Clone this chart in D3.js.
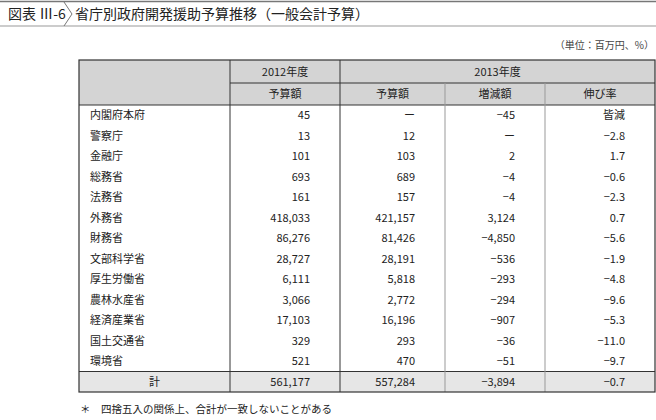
<!DOCTYPE html><html><head><meta charset="utf-8"><script src="https://cdn.jsdelivr.net/npm/d3@7"></script>
<style>body{margin:0;background:#fff}text{font-family:"Noto Sans CJK JP",sans-serif}</style></head><body><svg id="c" width="656" height="420"></svg><script>
const ministries=["内閣府本府","警察庁","金融庁","総務省","法務省","外務省","財務省","文部科学省","厚生労働省","農林水産省","経済産業省","国土交通省","環境省"];
const budget2012=["45","13","101","693","161","418,033","86,276","28,727","6,111","3,066","17,103","329","521"];
const budget2013=["ー","12","103","689","157","421,157","81,426","28,191","5,818","2,772","16,196","293","470"];
const change=["−45","ー","2","−4","−4","3,124","−4,850","−536","−293","−294","−907","−36","−51"];
const growth=["皆減","−2.8","1.7","−0.6","−2.3","0.7","−5.6","−1.9","−4.8","−9.6","−5.3","−11.0","−9.7"];
const total=["計","561,177","557,284","−3,894","−0.7"];
const svg=d3.select("#c");
svg.append("line").attr("x1",0).attr("x2",656).attr("y1",1.5).attr("y2",1.5).attr("stroke","#777").attr("stroke-width",1.5);
svg.append("line").attr("x1",0).attr("x2",656).attr("y1",26).attr("y2",26).attr("stroke","#999");
svg.append("path").attr("d","M64,2 L72,14 L64,26").attr("fill","none").attr("stroke","#777");
svg.append("text").attr("x",8).attr("y",19).attr("font-size",14).attr("fill","#222").text("図表 Ⅲ-6");
svg.append("text").attr("x",75).attr("y",19).attr("font-size",14).attr("fill","#222").text("省庁別政府開発援助予算推移（一般会計予算）");
svg.append("text").attr("x",654).attr("y",49).attr("text-anchor","end").attr("font-size",10).attr("fill","#444").text("（単位：百万円、%）");
const cols=[79,230,340,445,545,655];
const rowH=20.5;
const y=d3.scaleBand().domain(d3.range(ministries.length+1)).range([105,105+rowH*(ministries.length+1)]);
const bottom=y.range()[1];
svg.append("rect").attr("x",cols[0]).attr("y",60).attr("width",cols[5]-cols[0]).attr("height",45).attr("fill","#d4d4d4");
svg.append("rect").attr("x",cols[0]).attr("y",y(ministries.length)).attr("width",cols[5]-cols[0]).attr("height",y.bandwidth()).attr("fill","#e6e6e6");
const ln=(x1,y1,x2,y2,c,w)=>svg.append("line").attr("x1",x1).attr("y1",y1).attr("x2",x2).attr("y2",y2).attr("stroke",c).attr("stroke-width",w);
ln(cols[1],83,cols[5],83,"#333",1);
ln(cols[0],105,cols[5],105,"#333",1);
ln(cols[0],y(ministries.length),cols[5],y(ministries.length),"#333",1);
ln(cols[1],60,cols[1],bottom,"#333",1);ln(cols[2],60,cols[2],bottom,"#333",1);
ln(cols[3],83,cols[3],bottom,"#999",1);ln(cols[4],83,cols[4],bottom,"#999",1);
svg.append("rect").attr("x",cols[0]).attr("y",60).attr("width",cols[5]-cols[0]).attr("height",bottom-60).attr("fill","none").attr("stroke","#333").attr("stroke-width",1.2);
const t=(x,yy,s,a)=>svg.append("text").attr("x",x).attr("y",yy).attr("text-anchor",a).attr("font-size",11).attr("fill","#222").text(s);
t((cols[1]+cols[2])/2,76,"2012年度","middle");t((cols[2]+cols[5])/2,76,"2013年度","middle");
["予算額","予算額","増減額","伸び率"].forEach((s,i)=>t((cols[i+1]+cols[i+2])/2,98,s,"middle"));
ministries.forEach((m,i)=>{const yy=y(i)+y.bandwidth()/2+4;
 t(90,yy,m,"start");t(cols[2]-30,yy,budget2012[i],"end");t(cols[3]-30,yy,budget2013[i],"end");t(cols[4]-30,yy,change[i],"end");t(cols[5]-30,yy,growth[i],"end");});
const ty=y(ministries.length)+y.bandwidth()/2+4;
t((cols[0]+cols[1])/2,ty,total[0],"middle");
[1,2,3,4].forEach(j=>t(cols[j+1]-30,ty,total[j],"end"));
svg.append("text").attr("x",80).attr("y",413).attr("font-size",10.5).attr("fill","#222").text("＊　四捨五入の関係上、合計が一致しないことがある");
</script></body></html>
